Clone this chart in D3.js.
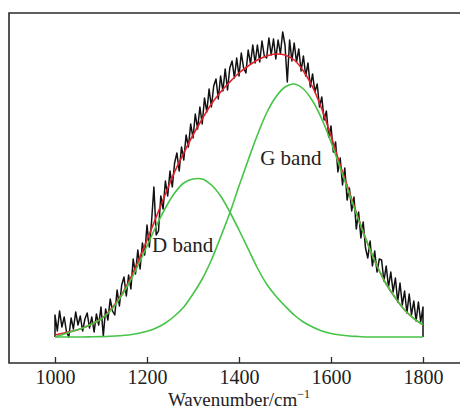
<!DOCTYPE html>
<html>
<head>
<meta charset="utf-8">
<script src="https://cdn.jsdelivr.net/npm/d3@7/dist/d3.min.js"></script>
<style>
    html, body { margin: 0; padding: 0; background: #fff; }
    svg { display: block; }
    .tick text, .label { font-family: "Liberation Serif", "Times New Roman", serif; fill: #222; }
</style>
</head>
<body>
<svg id="chart" width="460" height="410"></svg>
<script>
// Raman spectrum with D / G band fit.

// ----------------------------------------------------------------------------
// Data (intensity in arbitrary units)
// ----------------------------------------------------------------------------

// Wavenumber grid for the fitted curves (cm-1).
var fitWavenumbers = [1000, 1020, 1040, 1060, 1080, 1100, 1120, 1140, 1160, 1180,
                      1200, 1220, 1240, 1260, 1280, 1300, 1320, 1340, 1360, 1380,
                      1400, 1420, 1440, 1460, 1480, 1500, 1520, 1540, 1560, 1580,
                      1600, 1620, 1640, 1660, 1680, 1700, 1720, 1740, 1760, 1780, 1800];

var dBand = [0, 3, 6, 9, 13, 18, 26, 38, 53, 71,
             91, 111, 129, 144, 154, 158, 158, 152, 141, 125,
             107, 88, 69, 53, 41, 31, 22, 15, 10, 6,
             3.5, 2, 1, 0.5, 0, 0, 0, 0, 0, 0, 0];

var gBand = [0, 0, 0, 0, 0.2, 0.4, 0.7, 1.2, 2, 3.5,
             5.7, 9, 14, 21, 30, 43, 58, 77, 100, 124,
             151, 177, 202, 224, 240, 250, 253, 248, 236, 218,
             195, 169, 143, 117, 93, 71, 53, 39, 27, 18.5, 12.3];

var fitSum = [2, 4, 6, 9, 13, 18, 27, 39, 55, 75,
              97, 120, 143, 165, 184, 202, 218, 233, 245, 255,
              264, 271, 277, 281, 283, 282, 277, 266, 250, 228,
              201, 172, 145, 118, 93, 71, 53, 39, 27, 18.5, 12];

// Measured spectrum, one value every 5 cm-1 from 1000 to 1800.
var spectrumStart = 1000;
var spectrumStep = 5;
var spectrum = [
    22, 6, 26, 10, 20, 5, 0, 19, 8, 25, 12, 21, 6, 18, 24, 9, 20, 5, 23, 12,
    30, 1, 28, 17, 38, 26, 22, 47, 31, 52, 60, 41, 62, 48, 78, 63, 87, 68, 94, 82,
    112, 90, 116, 150, 102, 106, 141, 128, 156, 141, 166, 150, 174, 184, 166, 190, 177, 202, 190, 213,
    199, 223, 208, 230, 213, 239, 225, 248, 230, 251, 258, 238, 261, 246, 268, 247, 269, 276, 259, 279,
    261, 284, 269, 264, 287, 273, 292, 274, 292, 275, 296, 281, 279, 299, 282, 298, 278, 297, 283, 305,
    292, 255, 297, 276, 294, 275, 288, 266, 281, 261, 274, 250, 263, 245, 253, 230, 240, 217, 226, 200,
    211, 185, 195, 165, 179, 152, 169, 137, 149, 126, 140, 108, 125, 99, 115, 89, 79, 96, 71, 86,
    65, 78, 77, 56, 71, 50, 65, 45, 59, 35, 54, 32, 46, 24, 43, 22, 36, 16, 35, 15,
    30
];

// Axis ticks and annotations.
var xTicks = [1000, 1200, 1400, 1600, 1800];
var bandLabels = [
    { text: "G band", w: 1446, i: 172 },
    { text: "D band", w: 1211, i: 85 }
];

// ----------------------------------------------------------------------------
// Drawing
// ----------------------------------------------------------------------------

function drawChart() {
    var svg = d3.select("#chart");

    // plot frame (left, top, bottom lines; right side runs off the image)
    var frame = { left: 9, top: 13, bottom: 363, right: 472 };

    var x = d3.scaleLinear().domain([1000, 1800]).range([55, 423]);
    var y = d3.scaleLinear().domain([0, 324]).range([337, frame.top]);

    var fitPoints = function(values) {
        return fitWavenumbers.map(function(w, i) { return [w, values[i]]; });
    };

    var smooth = d3.line()
        .x(function(d) { return x(d[0]); })
        .y(function(d) { return y(d[1]); })
        .curve(d3.curveCatmullRom.alpha(0.5));

    var jagged = d3.line()
        .x(function(d) { return x(d[0]); })
        .y(function(d) { return y(d[1]); });

    // Measured trace, dropped to the baseline at both ends.
    var trace = spectrum.map(function(v, i) { return [spectrumStart + i * spectrumStep, v]; });
    trace.unshift([spectrumStart, 0]);
    trace.push([spectrumStart + (spectrum.length - 1) * spectrumStep, 0]);

    svg.append("path")
        .datum(trace)
        .attr("fill", "none")
        .attr("stroke", "#111")
        .attr("stroke-width", 1.5)
        .attr("stroke-linejoin", "round")
        .attr("d", jagged);

    // Fit envelope
    svg.append("path")
        .datum(fitPoints(fitSum))
        .attr("fill", "none")
        .attr("stroke", "#e3202c")
        .attr("stroke-width", 1.6)
        .attr("d", smooth);

    // Component bands
    [dBand, gBand].forEach(function(band) {
        svg.append("path")
            .datum(fitPoints(band))
            .attr("fill", "none")
            .attr("stroke", "#45c445")
            .attr("stroke-width", 1.6)
            .attr("d", smooth);
    });

    // Band labels
    svg.selectAll(".label.band")
        .data(bandLabels)
        .enter().append("text")
        .attr("class", "label band")
        .attr("x", function(d) { return x(d.w); })
        .attr("y", function(d) { return y(d.i); })
        .attr("font-size", 21)
        .text(function(d) { return d.text; });

    // Frame
    svg.append("path")
        .attr("fill", "none")
        .attr("stroke", "#2a2a2a")
        .attr("stroke-width", 1.6)
        .attr("d", "M" + frame.right + "," + frame.top + "H" + frame.left +
                   "V" + frame.bottom + "H" + frame.right);

    // X axis, ticks pointing inwards
    var axis = svg.append("g")
        .attr("transform", "translate(0," + frame.bottom + ")")
        .call(d3.axisBottom(x)
            .tickValues(xTicks)
            .tickFormat(d3.format("d"))
            .tickSizeInner(-6)
            .tickSizeOuter(0)
            .tickPadding(7));
    axis.select(".domain").remove();
    axis.selectAll(".tick line").attr("stroke", "#2a2a2a").attr("stroke-width", 1.3);
    axis.selectAll(".tick text").attr("font-size", 20);

    // Axis title
    var title = svg.append("text")
        .attr("class", "label")
        .attr("x", (x(1000) + x(1800)) / 2)
        .attr("y", 406)
        .attr("text-anchor", "middle")
        .attr("font-size", 19);
    title.append("tspan").text("Wavenumber/cm");
    title.append("tspan")
        .attr("font-size", 12)
        .attr("dy", -8)
        .text("\u22121");
}

drawChart();
</script>
</body>
</html>
